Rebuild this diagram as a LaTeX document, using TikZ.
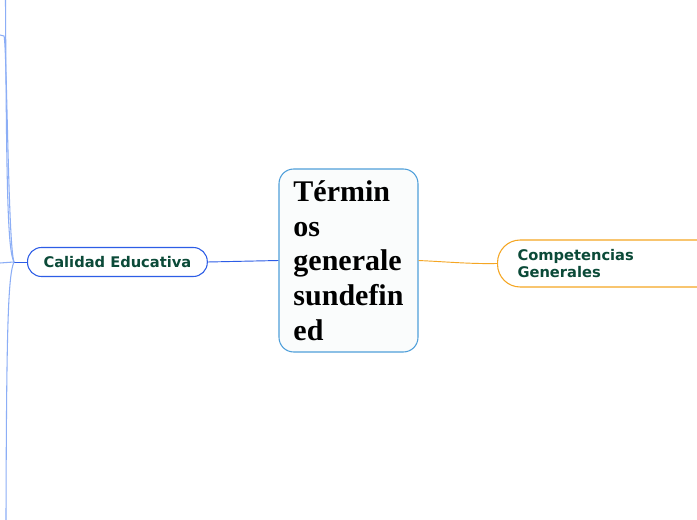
\documentclass[tikz,border=0pt]{standalone}
\usepackage{fontspec}
\setmainfont{Liberation Serif}
\newfontfamily\mapsans{DejaVu Sans}
\usetikzlibrary{positioning}
\definecolor{topictext}{HTML}{0B4A38}
\definecolor{centreline}{HTML}{4F9FDA}
\definecolor{centrefill}{HTML}{FAFCFC}
\definecolor{leftblue}{HTML}{2D5DE6}
\definecolor{twigblue}{HTML}{8CAEF6}
\definecolor{rightorange}{HTML}{F5A623}
\tikzset{
  centrebox/.style={draw=centreline, fill=centrefill, rounded corners=11pt, line width=0.8pt,
    minimum width=104.25pt, minimum height=137.25pt, align=left,
    font=\fontsize{22.5}{26}\selectfont\bfseries},
  topicbox/.style={fill=white, rounded corners=10.5pt, line width=0.8pt, inner xsep=12pt,
    font=\mapsans\fontsize{11}{12.75}\selectfont\bfseries, text=topictext, align=left}
}

\begin{document}
\begin{tikzpicture}[x=0.75pt, y=-0.75pt]
\clip (0,0) rectangle (697,520);
\fill[white] (0,0) rectangle (697,520);

\node[centrebox] (centre) at (348.5,260.5) {Términ\\os\\generale\\sundefin\\ed};

\node[topicbox, draw=leftblue, minimum height=21.75pt, anchor=west] (calidad) at (27,262) {Calidad Educativa};
\node[topicbox, draw=rightorange, rounded corners=17pt, minimum height=35.25pt, inner xsep=15pt,
  text width=190pt, anchor=west] (competencias) at (497,263.5) {Competencias\\Generales};

% connectors from the centre
\draw[leftblue, line width=0.7pt] (centre.west) -- (calidad.east);
\draw[rightorange, line width=0.7pt] (centre.east) .. controls (450,262) and (470,264) .. (competencias.west);

% children of Calidad Educativa, off the left edge
\coordinate (hub) at (14,262);
\coordinate (uptop) at (5.5,0);
\coordinate (upper) at (0,35);
\coordinate (side) at (0,263);
\coordinate (downbottom) at (6,520);
\draw[leftblue, line width=0.7pt] (calidad.west) -- (hub);
\draw[twigblue, line width=0.8pt] (hub) .. controls (8,250) and (6.5,200) .. (uptop);
\draw[twigblue, line width=0.8pt] (hub) .. controls (8,245) and (7,45) .. (4,36) -- (upper);
\draw[twigblue, line width=0.8pt] (hub) -- (side);
\draw[twigblue, line width=0.8pt] (hub) .. controls (8,275) and (6.5,330) .. (downbottom);
\end{tikzpicture}
\end{document}
